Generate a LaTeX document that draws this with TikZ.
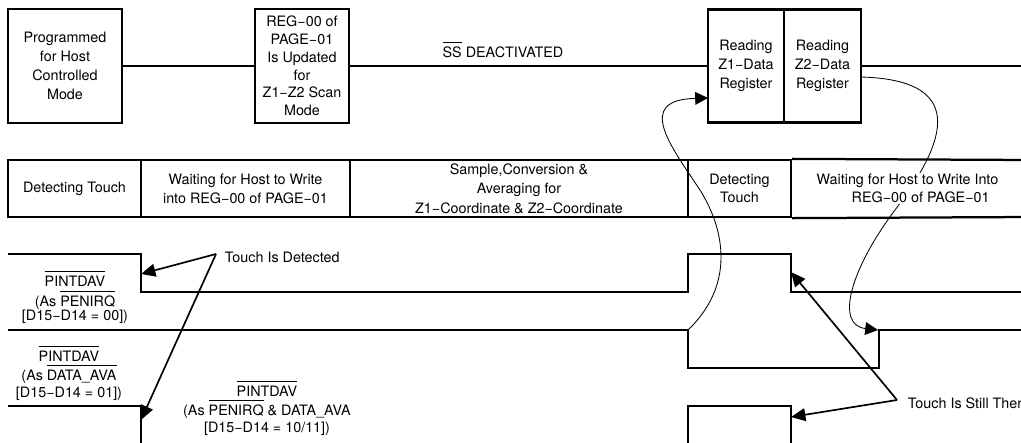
\documentclass[tikz,border=0pt]{standalone}
\usepackage{fontspec}
\setmainfont{TeX Gyre Heros}
\usetikzlibrary{arrows.meta}

\newcommand{\ovl}[1]{$\overline{\mbox{\rule{0pt}{9.5pt}#1}}$}

\begin{document}
\begin{tikzpicture}[x=0.025cm, y=-0.025cm, font=\fontsize{10.2}{13.5}\selectfont]

    % Custom styles for the timing chart
    \tikzset{
        cell/.style={draw, line width=1.6pt, align=center, inner sep=0.5pt},
        wave/.style={line width=1.6pt},
        pointer/.style={line width=1.2pt, -{Triangle[length=3.6mm, width=3.2mm]}},
        flowcurve/.style={line width=0.6pt, -{Triangle[length=3.2mm, width=3.2mm]}},
        siglabel/.style={align=center, inner sep=0pt, font=\fontsize{10.2}{12}\selectfont}
    }
    \useasboundingbox (0,0) rectangle (1021,442);

    % ==========================================
    % Host side: register access (top row)
    % ==========================================
    \node[cell, minimum width=2.85cm, minimum height=2.85cm] (prog) at (65,66) {Programmed\\for Host\\Controlled\\Mode};
    \node[cell, minimum width=2.35cm, minimum height=2.85cm, font=\fontsize{10.2}{12.6}\selectfont] (upd) at (302,66) {REG−00 of\\PAGE−01\\Is Updated\\for\\Z1−Z2 Scan\\Mode};
    \node[cell, minimum width=1.9cm, minimum height=2.825cm] (rz1) at (746,66) {Reading\\Z1−Data\\Register};
    \node[cell, minimum width=1.925cm, minimum height=2.825cm] (rz2) at (822.5,66) {Reading\\Z2−Data\\Register};
    \coordinate (topend) at (1030,66);

    \draw[wave] (prog) -- (upd);
    \draw[wave] (upd) -- (rz1);
    \draw[wave] (rz2) -- (topend);
    \node (ss) at (503,50) {\ovl{SS} DEACTIVATED};

    % ==========================================
    % Waveforms
    % ==========================================
    % PENIRQ mode
    \draw[wave] (8,254) -- (141,254) -- (141,292) -- (688,292) -- (688,254) -- (791,254) -- (791,292) -- (1030,292);
    % DATA_AVA mode
    \draw[wave] (8,330) -- (688,330) -- (688,368) -- (879,368) -- (879,330) -- (1030,330);
    % PENIRQ & DATA_AVA mode
    \draw[wave] (8,406) -- (141,406) -- (141,450);
    \draw[wave] (688,450) -- (688,406) -- (791,406) -- (791,450);

    % Waveform labels
    \node[siglabel] (lab1) at (75,297) {\ovl{PINTDAV}\\[2pt](As \ovl{PENIRQ}\\[-2pt]{}[D15−D14 = 00])};
    \node[siglabel] (lab2) at (69,373) {\ovl{PINTDAV}\\[2pt](As \ovl{DATA\_AVA}\\{}[D15−D14 = 01])};
    \node[siglabel] (lab3) at (267,408) {\ovl{PINTDAV}\\[1pt](As \ovl{PENIRQ} \& DATA\_AVA\\{}[D15−D14 = 10/11])};

    % Arrow end points on the edges
    \coordinate (s1fall) at (141,274);
    \coordinate (s3fall) at (141,420);
    \coordinate (s1back) at (791,272);
    \coordinate (s3back) at (791,417);
    \coordinate (s2rise) at (688,330);
    \coordinate (s2back) at (878,330);
    \coordinate (rz1in) at (708,98);
    \coordinate (rz2out) at (861,77);

    % Touch notes
    \node[anchor=west] (tid) at (220,257) {Touch Is Detected};
    \node[anchor=west] (tst) at (903,403) {Touch Is Still There};
    \coordinate (tidfrom) at (216,254);
    \coordinate (tstfrom) at (897,400);

    \draw[pointer] (tidfrom) -- (s1fall);
    \draw[pointer] (tidfrom) -- (s3fall);
    \draw[pointer] (tstfrom) -- (s1back);
    \draw[pointer] (tstfrom) -- (s3back);

    % Curved flow arrows
    \draw[flowcurve] (s2rise) .. controls (735,285) and (725,230) .. (700,190)
        .. controls (670,145) and (635,100) .. (rz1in);
    \draw[flowcurve] (rz2out) .. controls (975,80) and (940,150) .. (895,210)
        .. controls (850,270) and (835,325) .. (s2back);

    % ==========================================
    % Device side: state strip (middle row)
    % ==========================================
    \node[cell, minimum width=3.325cm, minimum height=1.425cm] (dt1) at (74.5,188.5) {Detecting Touch};
    \node[cell, minimum width=5.225cm, minimum height=1.425cm] (wh1) at (245.5,188.5) {Waiting for Host to Write\\into REG−00 of PAGE−01};
    \node[cell, minimum width=8.45cm, minimum height=1.425cm, font=\fontsize{10.2}{13.9}\selectfont] (sc) at (519,188.5) {Sample,Conversion \&\\Averaging for\\Z1−Coordinate \& Z2−Coordinate};
    \node[cell, minimum width=2.575cm, minimum height=1.425cm, font=\fontsize{10.2}{12.5}\selectfont] (dt2) at (739.5,188.5) {Detecting\\Touch};
    \coordinate (striptop) at (1030,160);
    \coordinate (stripbot) at (1030,217);
    \draw[wave] (dt2.north east) -- (striptop);
    \draw[wave] (dt2.south east) -- (stripbot);
    \node[fill=white, inner sep=1pt, align=left, font=\fontsize{10.2}{12.5}\selectfont] (wh2) at (907.5,188.5) {Waiting for Host to Write Into\\\hspace*{0.875cm}REG−00 of PAGE−01};

\end{tikzpicture}
\end{document}
